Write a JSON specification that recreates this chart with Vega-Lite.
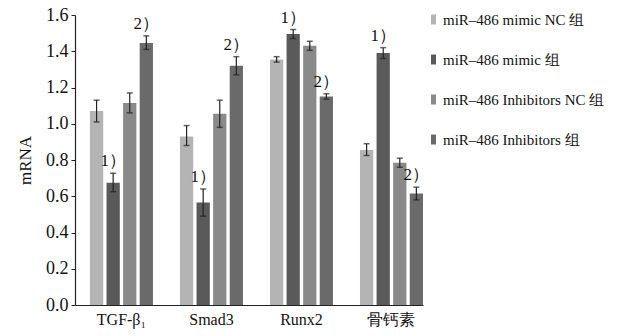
{
  "$schema": "https://vega.github.io/schema/vega-lite/v6.json",
  "width": 348,
  "height": 290,
  "autosize": {"type": "none"},
  "padding": {"left": 75, "top": 15, "right": 210, "bottom": 31},
  "background": "white",
  "config": {
    "font": "Liberation Serif",
    "view": {"stroke": null},
    "text": {"font": "Liberation Serif"},
    "legend": {"labelFont": "Liberation Serif", "titleFont": "Liberation Serif"},
    "axis": {"labelFont": "Liberation Serif", "titleFont": "Liberation Serif", "labelColor": "#111", "titleColor": "#111", "domainColor": "#222", "tickColor": "#222", "grid": false}
  },
  "resolve": {"axis": {"y": "independent"}},
  "data": {
    "values": [
      {"gene": "TGF-β₁", "group": "miR–486 mimic NC 组", "mean": 1.07, "lo": 1.01, "hi": 1.13, "sig": ""},
      {"gene": "TGF-β₁", "group": "miR–486 mimic 组", "mean": 0.675, "lo": 0.625, "hi": 0.727, "sig": "1）"},
      {"gene": "TGF-β₁", "group": "miR–486 Inhibitors NC 组", "mean": 1.115, "lo": 1.06, "hi": 1.17, "sig": ""},
      {"gene": "TGF-β₁", "group": "miR–486 Inhibitors 组", "mean": 1.445, "lo": 1.41, "hi": 1.485, "sig": "2）"},
      {"gene": "Smad3", "group": "miR–486 mimic NC 组", "mean": 0.93, "lo": 0.88, "hi": 0.99, "sig": ""},
      {"gene": "Smad3", "group": "miR–486 mimic 组", "mean": 0.565, "lo": 0.49, "hi": 0.64, "sig": "1）"},
      {"gene": "Smad3", "group": "miR–486 Inhibitors NC 组", "mean": 1.055, "lo": 0.98, "hi": 1.13, "sig": ""},
      {"gene": "Smad3", "group": "miR–486 Inhibitors 组", "mean": 1.32, "lo": 1.27, "hi": 1.37, "sig": "2）"},
      {"gene": "Runx2", "group": "miR–486 mimic NC 组", "mean": 1.355, "lo": 1.34, "hi": 1.37, "sig": ""},
      {"gene": "Runx2", "group": "miR–486 mimic 组", "mean": 1.495, "lo": 1.47, "hi": 1.52, "sig": "1）"},
      {"gene": "Runx2", "group": "miR–486 Inhibitors NC 组", "mean": 1.43, "lo": 1.405, "hi": 1.455, "sig": ""},
      {"gene": "Runx2", "group": "miR–486 Inhibitors 组", "mean": 1.15, "lo": 1.135, "hi": 1.165, "sig": "2）"},
      {"gene": "骨钙素", "group": "miR–486 mimic NC 组", "mean": 0.855, "lo": 0.825, "hi": 0.89, "sig": ""},
      {"gene": "骨钙素", "group": "miR–486 mimic 组", "mean": 1.39, "lo": 1.36, "hi": 1.42, "sig": "1）"},
      {"gene": "骨钙素", "group": "miR–486 Inhibitors NC 组", "mean": 0.785, "lo": 0.76, "hi": 0.81, "sig": ""},
      {"gene": "骨钙素", "group": "miR–486 Inhibitors 组", "mean": 0.615, "lo": 0.58, "hi": 0.65, "sig": "2）"}
    ]
  },
  "encoding": {
    "x": {
      "field": "gene", "type": "nominal",
      "sort": ["TGF-β₁", "Smad3", "Runx2", "骨钙素"],
      "scale": {"paddingInner": 0.3, "paddingOuter": 0.083, "align": 1},
      "axis": {"title": null, "labelAngle": 0, "ticks": false, "labelFontSize": 16, "labelPadding": 6, "domainWidth": 1.2, "labelFont": "Liberation Serif"}
    },
    "xOffset": {
      "field": "group", "type": "nominal",
      "sort": ["miR–486 mimic NC 组", "miR–486 mimic 组", "miR–486 Inhibitors NC 组", "miR–486 Inhibitors 组"],
      "scale": {"paddingInner": 0.2, "paddingOuter": 0}
    }
  },
  "layer": [
    {
      "mark": {"type": "bar"},
      "encoding": {
        "y": {
          "field": "mean", "type": "quantitative",
          "scale": {"domain": [0, 1.6], "nice": false},
          "axis": {"title": "mRNA", "titleFontSize": 17, "titleFontWeight": "normal", "titlePadding": 11, "values": [0, 0.2, 0.4, 0.6, 0.8, 1.0, 1.2, 1.4, 1.6], "format": ".1f", "labelOverlap": false, "labelFontSize": 18, "tickSize": 4, "labelPadding": 3, "domainWidth": 1.2}
        },
        "fill": {
          "field": "group", "type": "nominal",
          "sort": ["miR–486 mimic NC 组", "miR–486 mimic 组", "miR–486 Inhibitors NC 组", "miR–486 Inhibitors 组"],
          "scale": {"range": ["#b4b4b4", "#5a5a5a", "#8a8a8a", "#6a6a6a"]},
          "legend": {
            "title": null, "orient": "none", "legendX": 351, "legendY": -3,
            "labelFontSize": 15, "labelFont": "Liberation Serif", "labelColor": "#111", "labelLimit": 0,
            "symbolType": "M-0.5,-1H0.5V1H-0.5Z", "symbolSize": 100, "symbolStrokeWidth": 0,
            "rowPadding": 24, "labelOffset": 2
          }
        }
      }
    },
    {
      "mark": {"type": "rule", "color": "#222", "strokeWidth": 1.2},
      "encoding": {
        "y": {"field": "lo", "type": "quantitative", "axis": null},
        "y2": {"field": "hi"}
      }
    },
    {
      "mark": {"type": "tick", "color": "#222", "thickness": 1.5, "size": 6},
      "encoding": {"y": {"field": "hi", "type": "quantitative", "axis": null}}
    },
    {
      "mark": {"type": "tick", "color": "#222", "thickness": 1.5, "size": 6},
      "encoding": {"y": {"field": "lo", "type": "quantitative", "axis": null}}
    },
    {
      "mark": {"type": "text", "baseline": "bottom", "dy": -3, "fontSize": 17, "color": "#111", "font": "Liberation Serif"},
      "encoding": {
        "y": {"field": "hi", "type": "quantitative", "axis": null},
        "text": {"field": "sig"}
      }
    }
  ]
}
